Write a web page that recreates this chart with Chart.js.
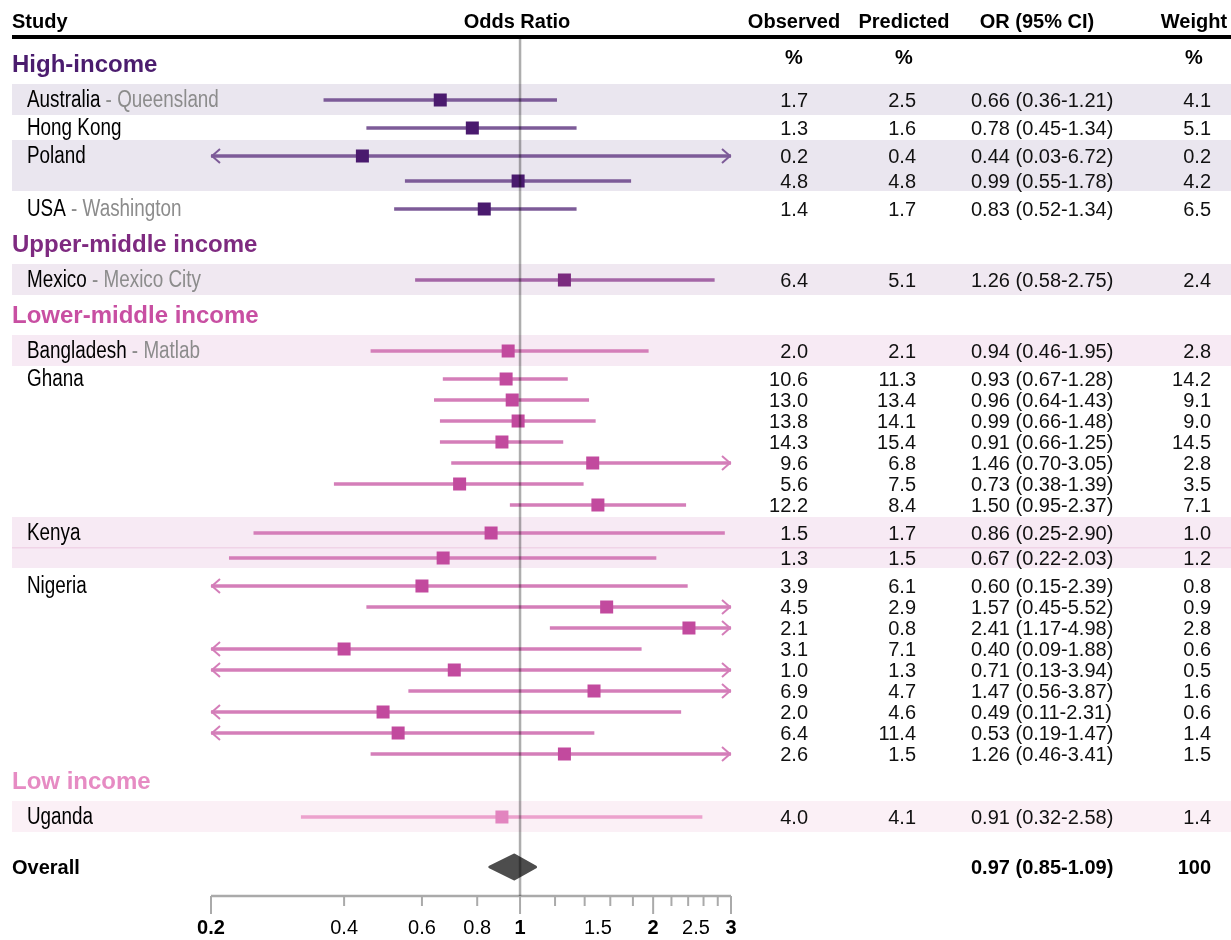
<!DOCTYPE html>
<html>
<head>
<meta charset="utf-8">
<script src="https://cdn.jsdelivr.net/npm/chart.js@4.4.1/dist/chart.umd.min.js"></script>
<style>
  body { margin: 0; background: #fff; }
  #wrap { width: 1231px; height: 940px; }
</style>
</head>
<body>
<div id="wrap"><canvas id="myChart" width="1231" height="940"></canvas></div>
<script>
// Grupos y estudios
var groupNames = ['High-income', 'Upper-middle income', 'Lower-middle income', 'Low income'];
var studyNames = ['Australia', 'Hong Kong', 'Poland', 'USA', 'Mexico', 'Bangladesh', 'Ghana', 'Kenya', 'Nigeria', 'Uganda'];
var studySites = ['Queensland', '', '', 'Washington', 'Mexico City', 'Matlab', '', '', '', ''];
var studyGroup = [0, 0, 0, 0, 1, 2, 2, 2, 2, 3];
var studyRows = [1, 1, 2, 1, 1, 1, 7, 2, 9, 1];

// Valores por fila (una fila por cohorte)
var observed  = [1.7, 1.3, 0.2, 4.8, 1.4, 6.4, 2.0, 10.6, 13.0, 13.8, 14.3, 9.6, 5.6, 12.2, 1.5, 1.3, 3.9, 4.5, 2.1, 3.1, 1.0, 6.9, 2.0, 6.4, 2.6, 4.0];
var predicted = [2.5, 1.6, 0.4, 4.8, 1.7, 5.1, 2.1, 11.3, 13.4, 14.1, 15.4, 6.8, 7.5, 8.4, 1.7, 1.5, 6.1, 2.9, 0.8, 7.1, 1.3, 4.7, 4.6, 11.4, 1.5, 4.1];
var oddsRatio = [0.66, 0.78, 0.44, 0.99, 0.83, 1.26, 0.94, 0.93, 0.96, 0.99, 0.91, 1.46, 0.73, 1.50, 0.86, 0.67, 0.60, 1.57, 2.41, 0.40, 0.71, 1.47, 0.49, 0.53, 1.26, 0.91];
var ciLow     = [0.36, 0.45, 0.03, 0.55, 0.52, 0.58, 0.46, 0.67, 0.64, 0.66, 0.66, 0.70, 0.38, 0.95, 0.25, 0.22, 0.15, 0.45, 1.17, 0.09, 0.13, 0.56, 0.11, 0.19, 0.46, 0.32];
var ciHigh    = [1.21, 1.34, 6.72, 1.78, 1.34, 2.75, 1.95, 1.28, 1.43, 1.48, 1.25, 3.05, 1.39, 2.37, 2.90, 2.03, 2.39, 5.52, 4.98, 1.88, 3.94, 3.87, 2.31, 1.47, 3.41, 2.58];
var weight    = [4.1, 5.1, 0.2, 4.2, 6.5, 2.4, 2.8, 14.2, 9.1, 9.0, 14.5, 2.8, 3.5, 7.1, 1.0, 1.2, 0.8, 0.9, 2.8, 0.6, 0.5, 1.6, 0.6, 1.4, 1.5, 1.4];

// Resultado global
var overallOR = 0.97, overallLow = 0.85, overallHigh = 1.09, overallWeight = '100';

// Eje X
var tickValues = [0.2, 0.4, 0.6, 0.8, 1, 1.2, 1.4, 1.6, 1.8, 2, 2.2, 2.4, 2.6, 2.8, 3];
var majorTicks = [0.2, 1, 2, 3];
var tickLabels = [0.2, 0.4, 0.6, 0.8, 1, 1.5, 2, 2.5, 3];

// Colores por grupo
var titleColor  = ['#4b1c6e', '#7e2a80', '#c84fa2', '#e68bc3'];
var markColor   = ['#4a1a6e', '#7b2a7f', '#c24a9e', '#e285bf'];
var lineColor   = ['#7d5b98', '#a466a6', '#d47eb9', '#eca2cd'];
var bandColor   = ['#eae6ef', '#f0e8f1', '#f7eaf4', '#fbf0f6'];

var NUM_FONT = '20px "Liberation Sans", Arial, sans-serif';
var BOLD_FONT = 'bold 20px "Liberation Sans", Arial, sans-serif';
var NAME_FONT = '23px "Liberation Sans", Arial, sans-serif';
var NAME_SQUEEZE = 0.82; // simula Arial Narrow

// Disposición vertical (unidades del eje Y)
var rowY = [], rowGroup = [], groupY = [], studyTop = [], studyBottom = [], studyFirstRow = [];
var y = 64, s = 0;
for (var g = 0; g < groupNames.length; g++) {
  if (g > 0) y = studyBottom[s - 1] + 20;
  groupY.push(y);
  y += 36;
  var first = true;
  while (s < studyNames.length && studyGroup[s] === g) {
    if (!first) y += 28;
    first = false;
    var n = studyRows[s];
    var step = n > 2 ? 21 : 25;
    studyTop.push(y - 16);
    studyFirstRow.push(rowY.length);
    for (var k = 0; k < n; k++) {
      if (k) y += step;
      rowY.push(y);
      rowGroup.push(g);
    }
    studyBottom.push(studyTop[s] + 31 + (n - 1) * 20);
    s++;
  }
}
var overallY = y + 50;
var axisY = overallY + 29;
var headerLineY = 37;
var TXT = 1; // ajuste vertical del texto

var whiskers = rowY.map(function(v, i) { return { x: [ciLow[i], ciHigh[i]], y: v }; });
var points = rowY.map(function(v, i) { return { x: oddsRatio[i], y: v }; });

var forestPlugin = {
  id: 'forest',
  beforeDatasetsDraw: function(chart) {
    var c = chart.ctx, xs = chart.scales.x, ys = chart.scales.y;
    c.save();
    // bandas
    var prevGroup = -1, idx = 0;
    for (var s = 0; s < studyNames.length; s++) {
      var g = studyGroup[s];
      if (g !== prevGroup) { idx = 0; prevGroup = g; }
      if (idx % 2 === 0) {
        var t = ys.getPixelForValue(studyTop[s]), b = ys.getPixelForValue(studyBottom[s]);
        c.fillStyle = bandColor[g];
        c.fillRect(12, t, 1231 - 12, b - t);
        if (studyNames[s] === 'Kenya') {
          var r0 = studyFirstRow[s];
          var mid = ys.getPixelForValue((rowY[r0] + rowY[r0 + 1]) / 2 + 2);
          c.fillStyle = '#f0d4e7';
          c.fillRect(12, mid - 0.5, 1231 - 12, 1.5);
        }
      }
      idx++;
    }

    // cabecera
    c.fillStyle = '#000';
    c.textBaseline = 'middle';
    c.font = BOLD_FONT;
    c.textAlign = 'left';
    c.fillText('Study', 12, 22);
    c.textAlign = 'center';
    c.fillText('Odds Ratio', 517, 22);
    c.fillText('Observed', 794, 22);
    c.fillText('Predicted', 904, 22);
    c.fillText('OR (95% CI)', 1037, 22);
    c.fillText('Weight', 1194, 22);
    c.fillText('%', 794, 58);
    c.fillText('%', 904, 58);
    c.fillText('%', 1194, 58);
    c.fillRect(12, headerLineY - 2, 1231 - 12, 4);

    // títulos de grupo
    c.textAlign = 'left';
    c.font = 'bold 24px "Liberation Sans", Arial, sans-serif';
    for (var g2 = 0; g2 < groupNames.length; g2++) {
      c.fillStyle = titleColor[g2];
      c.fillText(groupNames[g2], 12, ys.getPixelForValue(groupY[g2]) + TXT);
    }

    // nombres de estudios (letra estrecha)
    c.font = NAME_FONT;
    for (var s2 = 0; s2 < studyNames.length; s2++) {
      var py = ys.getPixelForValue(rowY[studyFirstRow[s2]]) + TXT;
      c.save();
      c.translate(27, py);
      c.scale(NAME_SQUEEZE, 1);
      c.fillStyle = '#000';
      c.fillText(studyNames[s2], 0, 0);
      if (studySites[s2]) {
        var w = c.measureText(studyNames[s2]).width;
        c.fillStyle = '#8c8c8c';
        c.fillText(' - ' + studySites[s2], w, 0);
      }
      c.restore();
    }

    // columnas numéricas
    c.font = NUM_FONT;
    c.fillStyle = '#111';
    for (var i = 0; i < rowY.length; i++) {
      var ry = ys.getPixelForValue(rowY[i]) + TXT;
      c.textAlign = 'right';
      c.fillText(observed[i].toFixed(1), 808, ry);
      c.fillText(predicted[i].toFixed(1), 916, ry);
      c.fillText(weight[i].toFixed(1), 1211, ry);
      c.textAlign = 'left';
      c.fillText(oddsRatio[i].toFixed(2) + ' (' + ciLow[i].toFixed(2) + '-' + ciHigh[i].toFixed(2) + ')', 971, ry);
    }

    // fila global
    var oy = ys.getPixelForValue(overallY);
    c.font = BOLD_FONT;
    c.fillStyle = '#000';
    c.textAlign = 'left';
    c.fillText('Overall', 12, oy + TXT);
    c.fillText(overallOR.toFixed(2) + ' (' + overallLow.toFixed(2) + '-' + overallHigh.toFixed(2) + ')', 971, oy + TXT);
    c.textAlign = 'right';
    c.fillText(overallWeight, 1211, oy + TXT);

    // eje X
    var ay = ys.getPixelForValue(axisY);
    c.strokeStyle = '#aaaaaa';
    c.lineWidth = 2.5;
    c.beginPath();
    c.moveTo(xs.left, ay);
    c.lineTo(xs.right, ay);
    c.stroke();
    c.lineWidth = 2;
    tickValues.forEach(function(v) {
      var px = xs.getPixelForValue(v);
      var len = majorTicks.indexOf(v) >= 0 ? 18 : 10;
      c.beginPath();
      c.moveTo(px, ay);
      c.lineTo(px, ay + len);
      c.stroke();
    });
    c.fillStyle = '#000';
    c.textAlign = 'center';
    tickLabels.forEach(function(v) {
      c.font = majorTicks.indexOf(v) >= 0 ? BOLD_FONT : NUM_FONT;
      c.fillText(String(v), xs.getPixelForValue(v), ay + 32);
    });
    c.restore();
  },
  afterDatasetsDraw: function(chart) {
    var c = chart.ctx, xs = chart.scales.x, ys = chart.scales.y;
    c.save();
    // flechas para IC fuera del eje
    c.lineWidth = 2;
    for (var i = 0; i < rowY.length; i++) {
      var py = ys.getPixelForValue(rowY[i]);
      c.strokeStyle = lineColor[rowGroup[i]];
      if (ciLow[i] < xs.min) {
        c.beginPath();
        c.moveTo(xs.left + 9, py - 7);
        c.lineTo(xs.left + 1, py);
        c.lineTo(xs.left + 9, py + 7);
        c.stroke();
      }
      if (ciHigh[i] > xs.max) {
        c.beginPath();
        c.moveTo(xs.right - 9, py - 7);
        c.lineTo(xs.right - 1, py);
        c.lineTo(xs.right - 9, py + 7);
        c.stroke();
      }
    }
    // diamante global
    var oy = ys.getPixelForValue(overallY);
    c.fillStyle = '#4d4d4d';
    c.strokeStyle = '#4d4d4d';
    c.lineJoin = 'round';
    c.lineWidth = 3;
    c.beginPath();
    c.moveTo(xs.getPixelForValue(overallLow) + 1, oy);
    c.lineTo(xs.getPixelForValue(overallOR), oy - 12);
    c.lineTo(xs.getPixelForValue(overallHigh) - 1, oy);
    c.lineTo(xs.getPixelForValue(overallOR), oy + 12);
    c.closePath();
    c.fill();
    c.stroke();
    // línea de referencia en OR = 1
    var x1 = xs.getPixelForValue(1);
    c.strokeStyle = 'rgba(0,0,0,0.32)';
    c.lineWidth = 2.5;
    c.beginPath();
    c.moveTo(x1, headerLineY + 2);
    c.lineTo(x1, ys.getPixelForValue(axisY));
    c.stroke();
    c.restore();
  }
};

var ctx = document.getElementById('myChart').getContext('2d');
var myChart = new Chart(ctx, {
  data: {
    datasets: [{
      type: 'bar',
      indexAxis: 'y',
      order: 1,
      data: whiskers,
      backgroundColor: rowGroup.map(function(g) { return lineColor[g]; }),
      borderWidth: 0,
      barThickness: 3,
      grouped: false
    }, {
      type: 'scatter',
      order: 0,
      data: points,
      pointStyle: 'rect',
      pointRadius: 9.2,
      pointHoverRadius: 9.2,
      borderWidth: 0,
      backgroundColor: rowGroup.map(function(g) { return markColor[g]; })
    }]
  },
  options: {
    responsive: false,
    animation: false,
    devicePixelRatio: 1,
    layout: { autoPadding: false, padding: { left: 211, right: 500, top: 0, bottom: 0 } },
    scales: {
      x: { type: 'logarithmic', min: 0.2, max: 3, display: false },
      y: { type: 'linear', min: 0, max: 940, reverse: true, offset: false, display: false }
    },
    plugins: { legend: { display: false }, tooltip: { enabled: false } }
  },
  plugins: [forestPlugin]
});
</script>
</body>
</html>
